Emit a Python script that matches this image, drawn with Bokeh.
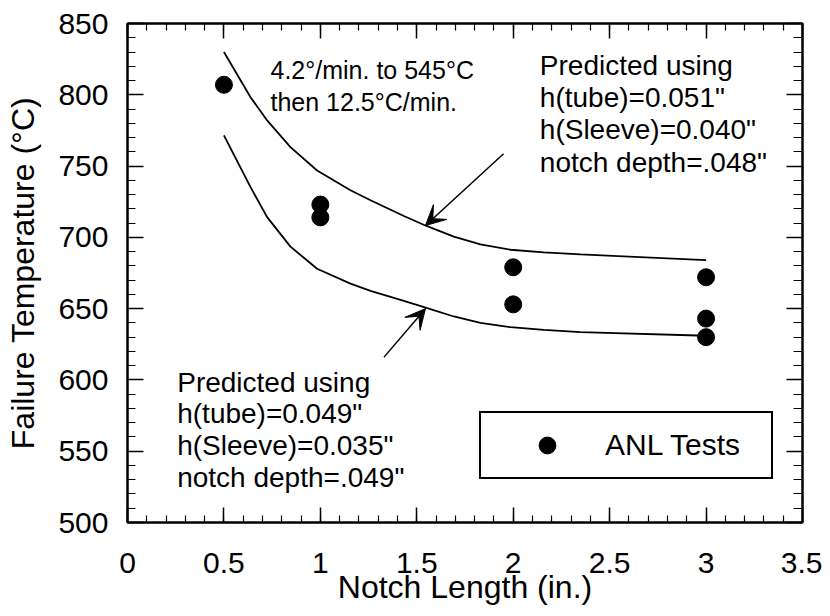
from bokeh.plotting import figure
from bokeh.models import (Range1d, LinearAxis, SingleIntervalTicker, CustomJSTickFormatter,
                          Label, Arrow, VeeHead, Legend, LegendItem)
from bokeh.embed import file_html
from bokeh.resources import INLINE

# ---- data ----
test_x = [0.5, 1, 1, 2, 2, 3, 3, 3]
test_y = [807, 723, 714, 679, 653, 672, 643, 630]

curve_x = [0.5, 0.638, 0.724, 0.845, 0.983, 1.156, 1.26, 1.433, 1.55, 1.692, 1.83, 1.986, 2.159, 2.349, 3.0]
upper_y = [830, 798.3, 782, 763.3, 746.9, 733, 726, 715, 708, 700.5, 695, 691.3, 689.4, 688, 684]
lower_y = [771.5, 735.2, 714.2, 693.5, 678, 667.5, 662.5, 655.5, 650.5, 644.5, 640, 637, 635.1, 633.5, 631]

x_ticks = [0, 0.5, 1, 1.5, 2, 2.5, 3, 3.5]
x_tick_labels = ["0", "0.5", "1", "1.5", "2", "2.5", "3", "3.5"]
y_ticks = [500, 550, 600, 650, 700, 750, 800, 850]
y_tick_labels = ["500", "550", "600", "650", "700", "750", "800", "850"]

x_title = "Notch Length (in.)"
y_title = "Failure Temperature (°C)"
legend_label = "ANL Tests"
note_rate = ["4.2°/min. to 545°C", "then 12.5°C/min."]
note_upper = ["Predicted using", 'h(tube)=0.051"', 'h(Sleeve)=0.040"', 'notch depth=.048"']
note_lower = ["Predicted using", 'h(tube)=0.049"', 'h(Sleeve)=0.035"', 'notch depth=.049"']

FONT = "Liberation Sans"

p = figure(width=822, height=608, x_range=Range1d(0, 3.5), y_range=Range1d(500, 850),
           output_backend="svg", toolbar_location=None,
           min_border_left=127, min_border_right=20, min_border_top=23, min_border_bottom=86)
p.xgrid.visible = False
p.ygrid.visible = False
p.outline_line_color = "black"
p.outline_line_width = 2
p.background_fill_color = "white"
p.border_fill_color = "white"


def style_axis(ax, major_in, minor_in):
    ax.major_tick_in = major_in
    ax.major_tick_out = 0
    ax.minor_tick_in = minor_in
    ax.minor_tick_out = 0
    ax.axis_line_width = 2
    ax.axis_line_color = "black"
    ax.major_tick_line_width = 1.5
    ax.minor_tick_line_width = 1.2
    ax.major_tick_line_color = "black"
    ax.minor_tick_line_color = "black"


xax = p.xaxis[0]
xax.ticker = SingleIntervalTicker(interval=0.5, num_minor_ticks=5)
xax.major_label_overrides = {t: l for t, l in zip(x_ticks, x_tick_labels)}
style_axis(xax, 15, 7)
xax.major_label_text_font = FONT
xax.major_label_text_font_size = "30px"
xax.major_label_text_color = "black"
xax.major_label_standoff = 30
xax.axis_label = x_title
xax.axis_label_text_font = FONT
xax.axis_label_text_font_size = "32px"
xax.axis_label_text_font_style = "normal"
xax.axis_label_text_color = "black"
xax.axis_label_standoff = -7

yax = p.yaxis[0]
yax.ticker = SingleIntervalTicker(interval=50, num_minor_ticks=5)
yax.major_label_overrides = {t: l for t, l in zip(y_ticks, y_tick_labels)}
style_axis(yax, 16, 8)
yax.major_label_text_font = FONT
yax.major_label_text_font_size = "30px"
yax.major_label_text_color = "black"
yax.major_label_standoff = 19
yax.axis_label = y_title
yax.axis_label_text_font = FONT
yax.axis_label_text_font_size = "32px"
yax.axis_label_text_font_style = "normal"
yax.axis_label_text_color = "black"
yax.axis_label_standoff = 14

blank = "return ''"
top = LinearAxis(ticker=SingleIntervalTicker(interval=0.5, num_minor_ticks=5),
                 formatter=CustomJSTickFormatter(code=blank),
                 major_label_text_font_size="0px", major_label_standoff=0)
style_axis(top, 15, 7)
p.add_layout(top, "above")

right = LinearAxis(ticker=SingleIntervalTicker(interval=50, num_minor_ticks=5),
                   formatter=CustomJSTickFormatter(code=blank),
                   major_label_text_font_size="0px", major_label_standoff=0)
style_axis(right, 16, 9)
p.add_layout(right, "right")

# predicted curves
p.line(curve_x, upper_y, line_color="black", line_width=1.8)
p.line(curve_x, lower_y, line_color="black", line_width=1.8)

# test points
r = p.scatter(test_x, test_y, size=17, fill_color="black", line_color="black")

legend = Legend(items=[LegendItem(label=legend_label, renderers=[r])],
                location=(352, 43), margin=0, padding=11, spacing=0,
                glyph_width=110, glyph_height=42, label_standoff=3, label_width=155,
                label_text_font=FONT, label_text_font_size="30px", label_text_color="black",
                border_line_color="black", border_line_width=2, border_line_alpha=1,
                background_fill_color="white", background_fill_alpha=1)
p.add_layout(legend)

# arrows
p.add_layout(Arrow(end=VeeHead(size=20, fill_color="black", line_color="black", line_width=1),
                   x_start=1.95, y_start=758.6, x_end=1.545, y_end=708.3,
                   line_width=1.5, line_color="black"))
p.add_layout(Arrow(end=VeeHead(size=20, fill_color="black", line_color="black", line_width=1),
                   x_start=1.33, y_start=616, x_end=1.545, y_end=650,
                   line_width=1.5, line_color="black"))


def add_lines(lines, x, y0, dy_px, size):
    for i, t in enumerate(lines):
        p.add_layout(Label(x=x, y=y0, y_offset=-i * dy_px, text=t, text_font=FONT,
                           text_font_size=size, text_color="black",
                           text_align="left", text_baseline="alphabetic"))


add_lines(note_rate, 0.7415, 817.5, 32.4, "25px")
add_lines(note_upper, 2.138, 820.5, 32.2, "28px")
add_lines(note_lower, 0.2577, 598.4, 31.7, "28px")

open("out.html", "w").write(file_html(p, INLINE))
